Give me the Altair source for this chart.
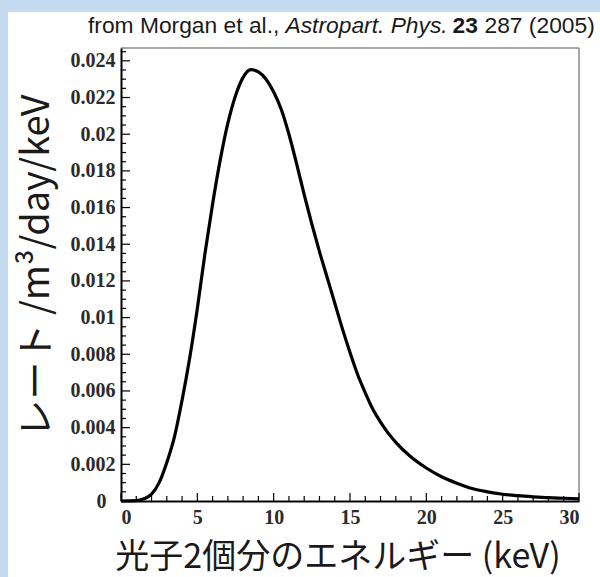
import altair as alt
import pandas as pd

# ---- data ----
energy = [0, 1.0, 1.5, 2.0, 2.5, 3.0, 3.5, 4.0, 4.5, 5.0, 5.5, 6.0, 6.5, 7.0, 7.5,
          8.0, 8.5, 9.0, 9.5, 10.0, 10.5, 11.0, 11.5, 12.0, 12.5, 13.0, 13.5, 14.0,
          14.5, 15.0, 15.5, 16.0, 16.5, 17.0, 17.5, 18.0, 19.0, 20.0, 21.0, 22.0,
          23.0, 24.0, 25.0, 26.0, 27.0, 28.0, 29.0, 30.0]
rate = [0, 0.00002, 0.00012, 0.00037, 0.0010, 0.0021, 0.0035, 0.0055, 0.0078, 0.0105,
        0.0135, 0.0162, 0.0186, 0.0206, 0.0221, 0.0231, 0.02352, 0.0234, 0.0230,
        0.0223, 0.02135, 0.0200, 0.0184, 0.0167, 0.0151, 0.0136, 0.0122, 0.0108,
        0.0094, 0.0081, 0.0069, 0.0059, 0.0050, 0.0043, 0.0037, 0.0032, 0.0024,
        0.0018, 0.00132, 0.00097, 0.00068, 0.0005, 0.00037, 0.00029, 0.00023,
        0.00018, 0.00015, 0.00012]

x_major = [0, 5, 10, 15, 20, 25, 30]
x_minor = [v for v in range(0, 31) if v % 5 != 0]
y_major = [0, 0.002, 0.004, 0.006, 0.008, 0.010, 0.012, 0.014, 0.016, 0.018,
           0.020, 0.022, 0.024]
y_minor = [round(i * 0.0005, 4) for i in range(0, 50) if i % 4 != 0]

title_parts = ["from Morgan et al.,", "Astropart. Phys.", "23", "287 (2005)"]
y_title = "レート /m³/day/keV"
x_title = "光子2個分のエネルギー (keV)"

# ---- layout ----
W, H = 458, 453
PAD = {"left": 121, "top": 48, "right": 21, "bottom": 76}
LABEL_FONT = "Liberation Serif"
LABEL_COLOR = "#2b2b2b"
LABEL_SIZE = 20

xscale = alt.Scale(domain=[0, 30], nice=False, zero=False)
yscale = alt.Scale(domain=[0, 0.0247], nice=False)

bg = alt.Chart(alt.Data(values=[{}])).mark_rect(color="white").encode(
    x=alt.value(-113), x2=alt.value(W + 21), y=alt.value(-36), y2=alt.value(H + 76)
)

curve = alt.Chart(pd.DataFrame({"energy": energy, "rate": rate})).mark_line(
    color="black", strokeWidth=3.2, interpolate="monotone"
).encode(
    x=alt.X("energy:Q", scale=xscale,
            axis=alt.Axis(values=x_major, title=None, ticks=False, grid=False, zindex=2,
                          domainColor="black", domainWidth=2, format="d",
                          labelFont=LABEL_FONT, labelFontSize=LABEL_SIZE, labelFontWeight="bold",
                          labelColor=LABEL_COLOR, labelPadding=6)),
    y=alt.Y("rate:Q", scale=yscale,
            axis=alt.Axis(values=y_major, title=None, ticks=False, grid=False, zindex=2,
                          domainColor="black", domainWidth=2, format="~g",
                          labelFont=LABEL_FONT, labelFontSize=LABEL_SIZE, labelFontWeight="bold",
                          labelColor=LABEL_COLOR,
                          labelPadding=alt.condition("datum.value === 0", alt.value(15), alt.value(6)))),
)

def yticks(vals, length):
    return alt.Chart(pd.DataFrame({"v": vals})).mark_rule(color="black", strokeWidth=1.2).encode(
        y=alt.Y("v:Q", scale=yscale, axis=None), x=alt.value(0), x2=alt.value(length))

def xticks(vals, length):
    return alt.Chart(pd.DataFrame({"u": vals})).mark_rule(color="black", strokeWidth=1.2).encode(
        x=alt.X("u:Q", scale=xscale, axis=None), y=alt.value(H), y2=alt.value(H - length))

frame_top = alt.Chart(alt.Data(values=[{}])).mark_rule(color="#8a8a8a", strokeWidth=1.5).encode(
    x=alt.value(0), x2=alt.value(W), y=alt.value(0))
frame_right = alt.Chart(alt.Data(values=[{}])).mark_rule(color="#8a8a8a", strokeWidth=1.5).encode(
    x=alt.value(W), y=alt.value(0), y2=alt.value(H))

def title_text(txt, xpos, style="normal", weight="normal"):
    return alt.Chart(alt.Data(values=[{}])).mark_text(
        align="left", baseline="alphabetic", font="Liberation Sans", fontSize=22.8,
        fontStyle=style, fontWeight=weight, color="#1a1a1a"
    ).encode(x=alt.value(xpos), y=alt.value(-15.5), text=alt.value(txt))

t1 = title_text(title_parts[0], -33)
t2 = title_text(title_parts[1], 164.5, style="italic")
t3 = title_text(title_parts[2], 331.5, weight="bold")
t4 = title_text(title_parts[3], 363.5)

ytitle = alt.Chart(alt.Data(values=[{}])).mark_text(
    angle=270, align="center", baseline="middle", font="Noto Sans CJK JP",
    fontSize=38, color="#1a1a1a"
).encode(x=alt.value(-83), y=alt.value(218), text=alt.value(y_title))

xtitle = alt.Chart(alt.Data(values=[{}])).mark_text(
    align="center", baseline="middle", font="Noto Sans CJK JP",
    fontSize=34, color="#1a1a1a"
).encode(x=alt.value(217), y=alt.value(510), text=alt.value(x_title))

chart = alt.layer(
    bg, frame_top, frame_right,
    yticks(y_major, 9), yticks(y_minor, 5), xticks(x_major, 8), xticks(x_minor, 5),
    curve, t1, t2, t3, t4, ytitle, xtitle
).resolve_axis(x="independent", y="independent").properties(
    width=W, height=H, padding=PAD,
    autosize=alt.AutoSizeParams(type="none"),
    background="#c4daef",
).configure_view(stroke=None)

chart.save("out.html", embed_options={"renderer": "svg", "actions": False})
